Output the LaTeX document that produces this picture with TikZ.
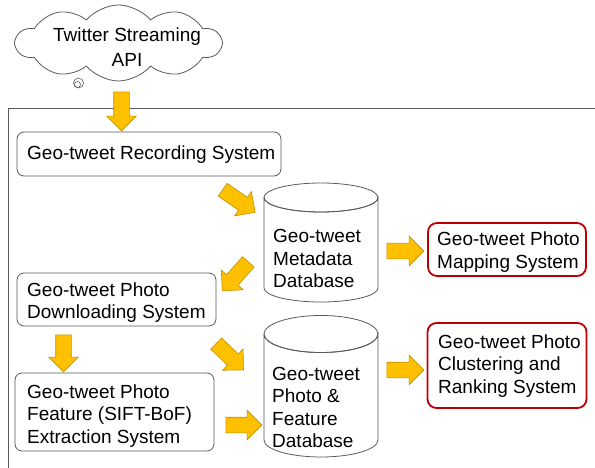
\documentclass[tikz,border=0pt]{standalone}
\usepackage{fontspec}
\setmainfont{Liberation Sans}
\usetikzlibrary{shapes.symbols,shapes.arrows}
\definecolor{arrowfill}{RGB}{255,192,0}
\definecolor{arrowline}{RGB}{191,144,0}
\definecolor{boxline}{RGB}{89,89,89}
\definecolor{redline}{RGB}{192,0,0}
\newcommand{\lines}[1]{\begin{tabular}[t]{@{}l@{}}#1\end{tabular}}
\tikzset{
  blockarrow/.style={single arrow, fill=arrowfill, draw=arrowline, line width=0.6pt,
    inner sep=0pt, minimum width=29pt, single arrow head extend=7pt,
    single arrow head indent=0pt, text height=15pt, text depth=0pt},
  sysbox/.style={draw=boxline, line width=0.8pt, rounded corners=7pt, inner sep=0pt},
  redbox/.style={draw=redline, line width=1.8pt, rounded corners=9pt, inner sep=0pt},
  txt/.style={anchor=base west, inner sep=0pt, font=\fontsize{19}{22.5}\selectfont},
  cyl/.style={draw=boxline, line width=0.8pt}
}
\begin{document}
\begin{tikzpicture}[x=1pt,y=-1pt]
\useasboundingbox (0,0) rectangle (595,468);
% cloud
\node[cloud, draw=boxline, line width=0.8pt, cloud puffs=10, cloud puff arc=100,
  cloud ignores aspect, minimum width=205pt, minimum height=76pt, inner sep=0pt] (api) at (118.5,43) {};
\node[inner sep=0pt, align=center, font=\fontsize{19}{25}\selectfont] (apitext) at (127,47) {Twitter Streaming\\API};
\draw[boxline, line width=0.6pt] (78.5,83) circle (5pt);
\draw[boxline, line width=0.6pt] (77.5,84.5) circle (3pt);
% frame
\draw[boxline, line width=0.8pt] (600,108) -| (8,480);
% boxes
\node[sysbox, minimum width=264pt, minimum height=44pt] (rec) at (149,154) {};
\node[txt] (rect) at (27,160) {Geo-tweet Recording System};
\node[sysbox, minimum width=199pt, minimum height=53pt] (dl) at (116.5,299.5) {};
\node[txt] (dlt) at (27,296) {\lines{Geo-tweet Photo\\Downloading System}};
\node[sysbox, minimum width=199pt, minimum height=78pt] (fx) at (114.5,412) {};
\node[txt] (fxt) at (27,398) {\lines{Geo-tweet Photo\\Feature (SIFT-BoF)\\Extraction System}};
\node[redbox, minimum width=158pt, minimum height=53pt] (map) at (507,249.5) {};
\node[txt] (mapt) at (437,246) {\lines{Geo-tweet Photo\\Mapping System}};
\node[redbox, minimum width=159pt, minimum height=85pt] (clu) at (507,365.5) {};
\node[txt] (clut) at (438,348) {\lines{Geo-tweet Photo\\Clustering and\\Ranking System}};
% cylinders
\draw[cyl, fill=white] (264,197.5) -- (264,288) arc[start angle=180, end angle=360, x radius=57pt, y radius=14pt]
  -- (378,197.5) arc[start angle=0, end angle=-180, x radius=57pt, y radius=14.5pt];
\draw[cyl] (321,197.5) ellipse[x radius=57pt, y radius=14.5pt];
\node[inner sep=0pt, minimum width=114pt, minimum height=119pt] (mdb) at (321,242.5) {};
\node[txt] (mdbt) at (273,243) {\lines{Geo-tweet\\Metadata\\Database}};
\draw[cyl, fill=white] (264,334) -- (264,440) arc[start angle=180, end angle=360, x radius=57pt, y radius=17pt]
  -- (378,334) arc[start angle=0, end angle=-180, x radius=57pt, y radius=18.5pt];
\draw[cyl] (321,334) ellipse[x radius=57pt, y radius=18.5pt];
\node[inner sep=0pt, minimum width=114pt, minimum height=142pt] (pdb) at (321,386) {};
\node[txt] (pdbt) at (272,380) {\lines{Geo-tweet\\Photo \&\\Feature\\Database}};
% arrows
\node[blockarrow, minimum height=39pt, rotate=-90] (a1) at (121.5,107.5) {};
\node[blockarrow, minimum height=39.5pt, rotate=-34.7] (a2) at (235.75,198.75) {};
\node[blockarrow, minimum height=39pt, rotate=-131.9] (a3) at (238,273.5) {};
\node[blockarrow, minimum height=37pt, rotate=0] (a4) at (401.5,251) {};
\node[blockarrow, minimum height=37pt, rotate=-90] (a5) at (63.5,349.5) {};
\node[blockarrow, minimum height=38pt, rotate=-44] (a6) at (227,354) {};
\node[blockarrow, minimum height=36pt, rotate=0] (a7) at (240,425) {};
\node[blockarrow, minimum height=37pt, rotate=0] (a8) at (401.5,370) {};
\end{tikzpicture}
\end{document}
